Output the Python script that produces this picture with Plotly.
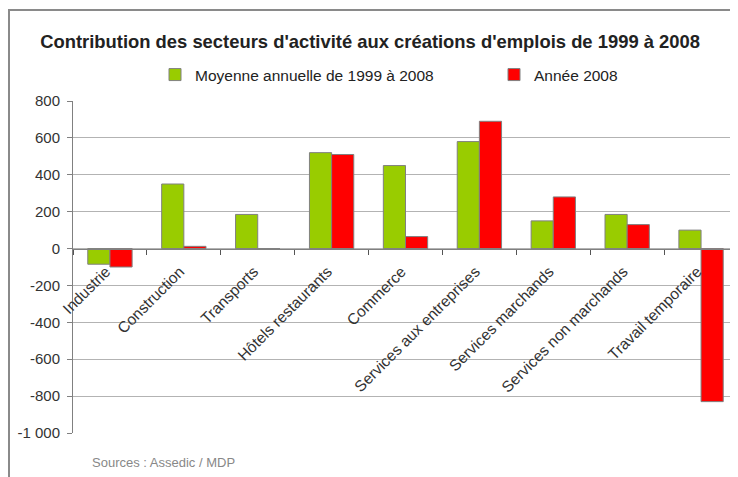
import plotly.graph_objects as go

categories = ["Industrie", "Construction", "Transports", "Hôtels restaurants", "Commerce",
              "Services aux entreprises", "Services marchands", "Services non marchands",
              "Travail temporaire"]
moyenne = [-85, 350, 185, 520, 450, 580, 150, 185, 100]
annee_2008 = [-100, 12, 0, 510, 65, 690, 280, 130, -830]
y_tickvals = [800, 600, 400, 200, 0, -200, -400, -600, -800, -1000]
y_ticktext = ["800", "600", "400", "200", "0", "-200", "-400", "-600", "-800", "-1 000"]

FONT = "Liberation Sans, Arial, sans-serif"

# page has an 8px body margin: figure is 730x469 so it ends at the window edge
W, H = 730, 469
L, T, B, R = 65, 93, 44, 0
PW, PH = W - L - R, H - T - B

fig = go.Figure()
fig.add_trace(go.Bar(x=categories, y=moyenne, name="Moyenne annuelle de 1999 à 2008",
                     marker=dict(color="#99CC00", line=dict(color="#808080", width=1)),
                     legend="legend"))
fig.add_trace(go.Bar(x=categories, y=annee_2008, name="Année 2008",
                     marker=dict(color="#FF0000", line=dict(color="#808080", width=1)),
                     legend="legend2"))

ymin, ymax = -1000, 800
zero_pos = (0 - ymin) / (ymax - ymin)

leg_y = 1 + (T - 67) / PH
leg_common = dict(orientation="h", xanchor="left", y=leg_y, yanchor="middle",
                  font=dict(family=FONT, size=15.5, color="#222222"),
                  itemwidth=30, bgcolor="rgba(0,0,0,0)")

fig.update_layout(
    width=W, height=H,
    margin=dict(l=L, r=R, t=T, b=B, autoexpand=False),
    paper_bgcolor="white", plot_bgcolor="white",
    barmode="group", bargap=0.4, bargroupgap=0,
    font=dict(family=FONT, size=15, color="#333333"),
    title=dict(text="<b>Contribution des secteurs d'activité aux créations d'emplois de 1999 à 2008</b>",
               x=0.496, xref="container", xanchor="center", y=1 - 34 / H, yanchor="middle",
               font=dict(family=FONT, size=18.4, color="#222222")),
    legend=dict(x=(147 - L) / PW, **leg_common),
    legend2=dict(x=(486 - L) / PW, **leg_common),
    showlegend=True,
    xaxis=dict(anchor="free", position=zero_pos, showline=True, linecolor="#808080", linewidth=1,
               ticks="outside", tickson="boundaries", ticklen=5, tickcolor="#555555",
               tickangle=-45, showgrid=False, automargin=False,
               ticklabelstandoff=7, ticklabelshift=-4,
               tickfont=dict(family=FONT, size=15.5, color="#333333")),
    yaxis=dict(range=[ymin, ymax], tickvals=y_tickvals, ticktext=y_ticktext,
               showgrid=True, gridcolor="#b3b3b3", gridwidth=1,
               showline=True, linecolor="#808080", linewidth=1,
               ticks="outside", ticklen=5, tickcolor="#808080",
               ticklabelstandoff=4,
               zeroline=False, automargin=False,
               tickfont=dict(family=FONT, size=15, color="#333333")),
)

fig.add_annotation(text="Sources : Assedic / MDP", xref="paper", yref="paper",
                   x=(82 - L) / PW, y=-(454 - (H - B)) / PH, xanchor="left", yanchor="middle",
                   showarrow=False, font=dict(family=FONT, size=13, color="#888888"))

fig.add_shape(type="rect", xref="paper", yref="paper",
              x0=-(L - 1) / PW, x1=1.05, y0=-0.3, y1=((H - B) - 2) / PH,
              line=dict(color="#8a8a8a", width=2), fillcolor="rgba(0,0,0,0)", layer="below")

fig.write_html("out.html")
